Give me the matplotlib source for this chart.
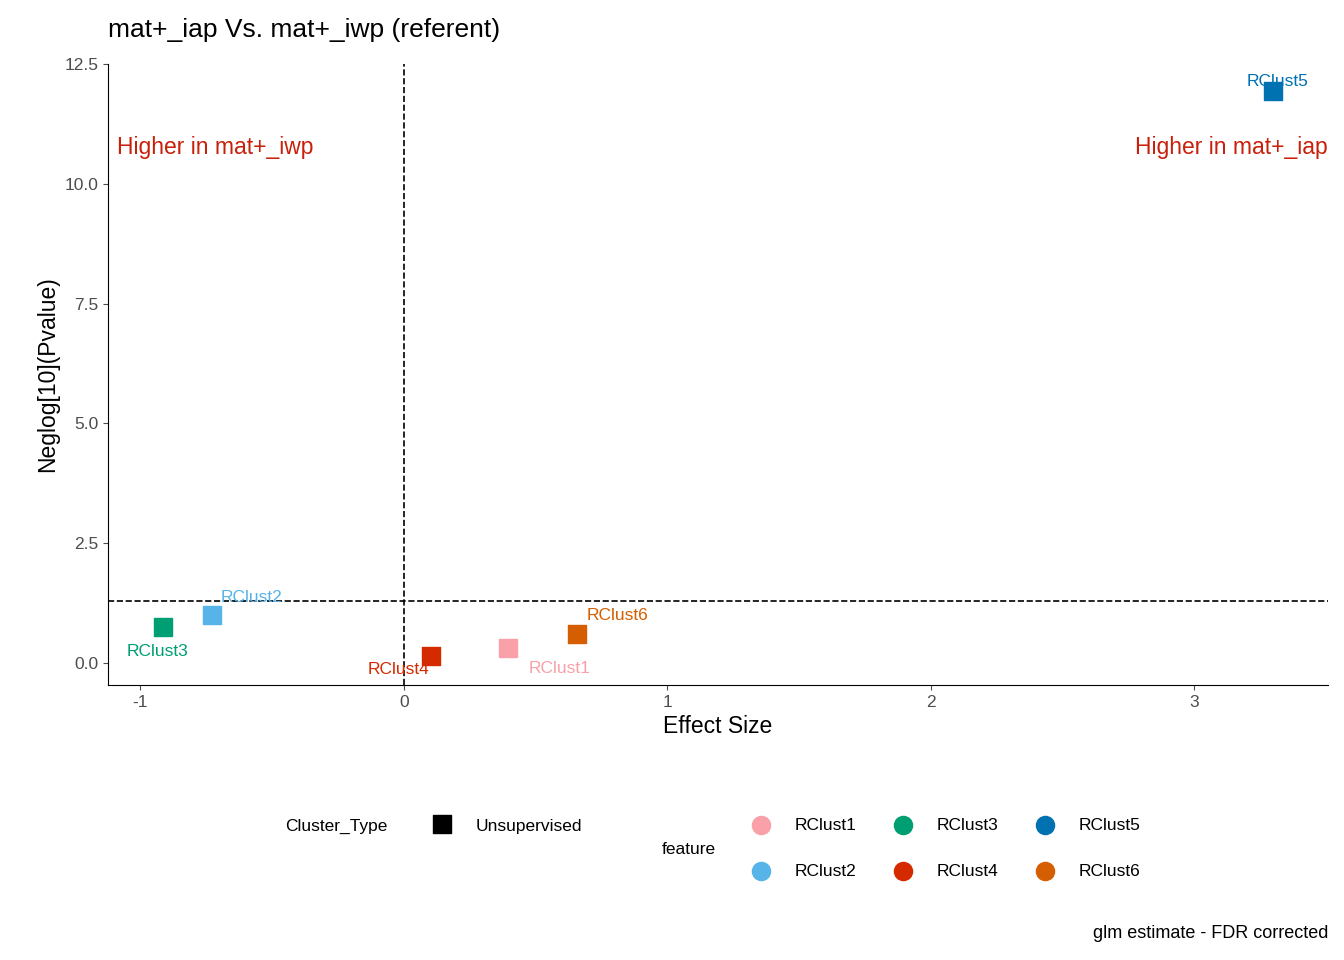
import matplotlib.pyplot as plt

plt.rcParams['font.family'] = ['Liberation Sans', 'DejaVu Sans']
plt.rcParams['axes.unicode_minus'] = False

features = ["RClust1", "RClust2", "RClust3", "RClust4", "RClust5", "RClust6"]
effect = [0.395, -0.729, -0.915, 0.102, 3.298, 0.657]
neglogp = [0.31, 1.0, 0.75, 0.146, 11.94, 0.6]
colors = ["#F9A0A8", "#56B4E9", "#009E73", "#D52A00", "#0072B2", "#D55E00"]
# label offsets in pixels (dx, dy)
offsets = [(52, -20), (40, 18), (-5, -24), (-32, -13), (5, 9), (40, 19)]

fig = plt.figure(figsize=(13.44, 9.6), dpi=100)
ax = fig.add_axes([108/1344, 1-685/960, 1220/1344, 621/960])
for f, x, y, c, (dx, dy) in zip(features, effect, neglogp, colors, offsets):
    ax.scatter(x, y, marker="s", s=160, color=c, zorder=3)
    ax.annotate(f, (x, y), xytext=(dx*0.72, dy*0.72), textcoords="offset points",
                ha="center", va="center", color=c, fontsize=12.5)
ax.axhline(1.3, color="black", ls="--", lw=1.2)
ax.axvline(0, color="black", ls="--", lw=1.2)
ax.set_xlim(-1.123, 3.507)
ax.set_ylim(-0.459, 12.5)
ax.set_xticks([-1, 0, 1, 2, 3])
ax.set_yticks([0, 2.5, 5, 7.5, 10, 12.5])
ax.set_yticklabels(["0.0", "2.5", "5.0", "7.5", "10.0", "12.5"])
ax.tick_params(labelsize=12.5, colors="#4D4D4D", labelcolor="#4D4D4D")
for s in ["top", "right"]:
    ax.spines[s].set_visible(False)
ax.set_xlabel("Effect Size", fontsize=16.5)
ax.set_ylabel("Neglog[10](Pvalue)", fontsize=16.5)
ax.text(0.007, 0.865, "Higher in mat+_iwp", transform=ax.transAxes, color="#C8200A", fontsize=16.5, va="center")
ax.text(1.0, 0.865, "Higher in mat+_iap", transform=ax.transAxes, color="#C8200A", fontsize=16.5, va="center", ha="right")
fig.text(108/1344, 1-30/960, "mat+_iap Vs. mat+_iwp (referent)", fontsize=19, va="center")
fig.text(1328/1344, 1-933/960, "glm estimate - FDR corrected", fontsize=13, ha="right", va="center")

# legend area
lg = fig.add_axes([0, 0, 1, 1])
lg.set_xlim(0, 1344); lg.set_ylim(960, 0); lg.axis("off")
lg.text(285, 826, "Cluster_Type", fontsize=12.5, va="center")
lg.scatter(442, 824, marker="s", s=160, color="black")
lg.text(476, 826, "Unsupervised", fontsize=12.5, va="center")
lg.text(662, 849, "feature", fontsize=12.5, va="center")
pos = [(761, 825), (761, 871), (903, 825), (903, 871), (1045, 825), (1045, 871)]
for f, c, (px, py) in zip(features, colors, pos):
    lg.scatter(px, py, s=170, color=c)
    lg.text(px + 34, py + 1, f, fontsize=12.5, va="center")

fig.savefig("out.png", dpi=100)
